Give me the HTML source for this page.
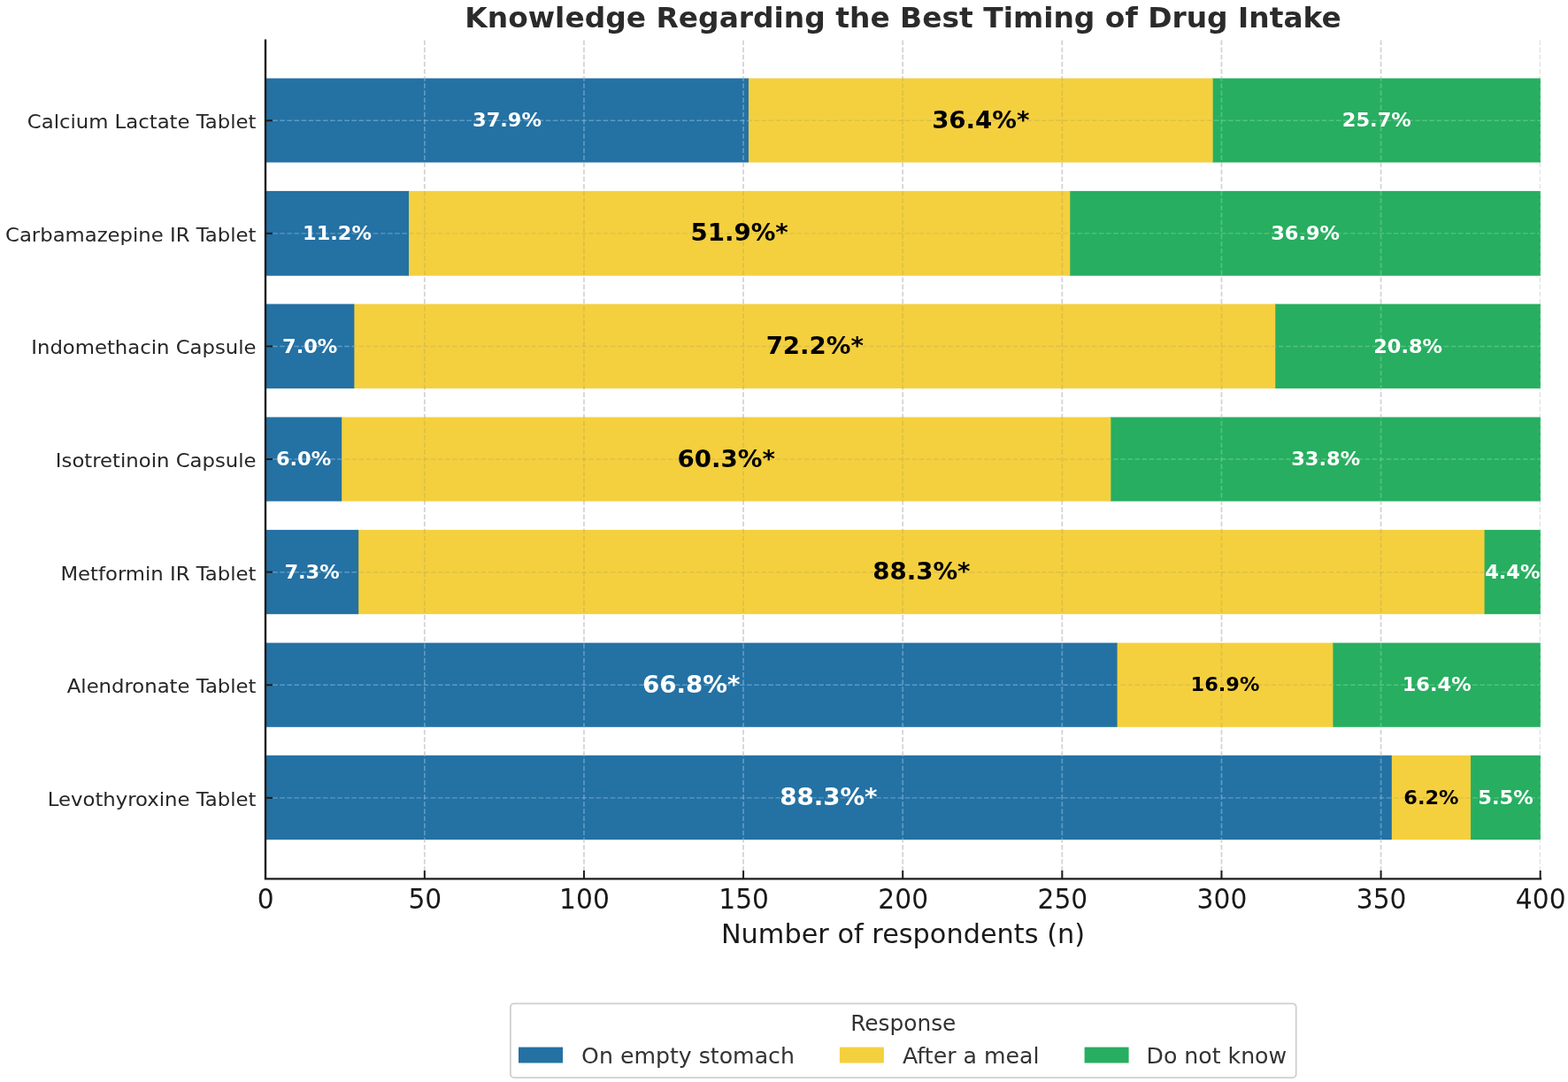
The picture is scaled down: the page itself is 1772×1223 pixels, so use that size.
<!DOCTYPE html>
<html lang="en"><head><meta charset="utf-8"><title>Knowledge Regarding the Best Timing of Drug Intake</title>
<style>
html,body{margin:0;padding:0;background:#fff;}
body{width:1772px;height:1223px;overflow:hidden;}
svg{display:block;font-family:"DejaVu Sans","Liberation Sans",sans-serif;}
.b{font-weight:bold;}
</style></head><body>
<svg width="1772" height="1223" viewBox="0 0 1772 1223">
<rect x="0" y="0" width="1772" height="1223" fill="#ffffff"/>
<g>
<rect x="1369.66" y="88.50" width="371.34" height="95.10" fill="#27ae60"/>
<rect x="844.94" y="88.50" width="525.72" height="95.10" fill="#f4d03f"/>
<rect x="300.00" y="88.50" width="545.94" height="95.10" fill="#2471a3"/>
<rect x="1208.27" y="215.90" width="532.73" height="95.80" fill="#27ae60"/>
<rect x="460.99" y="215.90" width="748.28" height="95.80" fill="#f4d03f"/>
<rect x="300.00" y="215.90" width="161.99" height="95.80" fill="#2471a3"/>
<rect x="1440.27" y="343.60" width="300.73" height="95.50" fill="#27ae60"/>
<rect x="399.37" y="343.60" width="1041.90" height="95.50" fill="#f4d03f"/>
<rect x="300.00" y="343.60" width="100.37" height="95.50" fill="#2471a3"/>
<rect x="1254.38" y="471.50" width="486.62" height="95.10" fill="#27ae60"/>
<rect x="385.16" y="471.50" width="870.22" height="95.10" fill="#f4d03f"/>
<rect x="300.00" y="471.50" width="86.16" height="95.10" fill="#2471a3"/>
<rect x="1676.60" y="598.90" width="64.40" height="95.30" fill="#27ae60"/>
<rect x="404.19" y="598.90" width="1273.40" height="95.30" fill="#f4d03f"/>
<rect x="300.00" y="598.90" width="105.19" height="95.30" fill="#2471a3"/>
<rect x="1505.42" y="726.60" width="235.58" height="95.20" fill="#27ae60"/>
<rect x="1261.59" y="726.60" width="244.83" height="95.20" fill="#f4d03f"/>
<rect x="300.00" y="726.60" width="962.59" height="95.20" fill="#2471a3"/>
<rect x="1661.05" y="853.80" width="79.95" height="95.30" fill="#27ae60"/>
<rect x="1571.80" y="853.80" width="90.24" height="95.30" fill="#f4d03f"/>
<rect x="300.00" y="853.80" width="1272.80" height="95.30" fill="#2471a3"/>
</g>
<clipPath id="ax"><rect x="300.00" y="44.30" width="1440.65" height="949.10"/></clipPath>
<g clip-path="url(#ax)" stroke="#b0b0b0" stroke-opacity="0.18" stroke-width="1.7" stroke-dasharray="5.6 2.52" fill="none">
<line x1="479.82" y1="993.00" x2="479.82" y2="44.30"/>
<line x1="659.95" y1="993.00" x2="659.95" y2="44.30"/>
<line x1="840.08" y1="993.00" x2="840.08" y2="44.30"/>
<line x1="1020.20" y1="993.00" x2="1020.20" y2="44.30"/>
<line x1="1200.33" y1="993.00" x2="1200.33" y2="44.30"/>
<line x1="1380.45" y1="993.00" x2="1380.45" y2="44.30"/>
<line x1="1560.58" y1="993.00" x2="1560.58" y2="44.30"/>
<line x1="1740.70" y1="993.00" x2="1740.70" y2="44.30"/>
<line stroke-width="1.45" x1="300.00" y1="136.25" x2="1741.00" y2="136.25"/>
<line stroke-width="1.45" x1="300.00" y1="263.85" x2="1741.00" y2="263.85"/>
<line stroke-width="1.45" x1="300.00" y1="391.45" x2="1741.00" y2="391.45"/>
<line stroke-width="1.45" x1="300.00" y1="519.05" x2="1741.00" y2="519.05"/>
<line stroke-width="1.45" x1="300.00" y1="646.65" x2="1741.00" y2="646.65"/>
<line stroke-width="1.45" x1="300.00" y1="774.25" x2="1741.00" y2="774.25"/>
<line stroke-width="1.45" x1="300.00" y1="901.85" x2="1741.00" y2="901.85"/>
</g>
<g clip-path="url(#ax)" stroke="#b0b0b0" stroke-opacity="0.45" stroke-width="1.7" stroke-dasharray="5.6 2.52" fill="none" style="mix-blend-mode:luminosity">
<line x1="479.82" y1="993.00" x2="479.82" y2="44.30"/>
<line x1="659.95" y1="993.00" x2="659.95" y2="44.30"/>
<line x1="840.08" y1="993.00" x2="840.08" y2="44.30"/>
<line x1="1020.20" y1="993.00" x2="1020.20" y2="44.30"/>
<line x1="1200.33" y1="993.00" x2="1200.33" y2="44.30"/>
<line x1="1380.45" y1="993.00" x2="1380.45" y2="44.30"/>
<line x1="1560.58" y1="993.00" x2="1560.58" y2="44.30"/>
<line x1="1740.70" y1="993.00" x2="1740.70" y2="44.30"/>
<line stroke-width="1.45" x1="300.00" y1="136.25" x2="1741.00" y2="136.25"/>
<line stroke-width="1.45" x1="300.00" y1="263.85" x2="1741.00" y2="263.85"/>
<line stroke-width="1.45" x1="300.00" y1="391.45" x2="1741.00" y2="391.45"/>
<line stroke-width="1.45" x1="300.00" y1="519.05" x2="1741.00" y2="519.05"/>
<line stroke-width="1.45" x1="300.00" y1="646.65" x2="1741.00" y2="646.65"/>
<line stroke-width="1.45" x1="300.00" y1="774.25" x2="1741.00" y2="774.25"/>
<line stroke-width="1.45" x1="300.00" y1="901.85" x2="1741.00" y2="901.85"/>
</g>
<g>
<text x="572.97" y="143.35" font-size="21.60" textLength="77.93" lengthAdjust="spacingAndGlyphs" text-anchor="middle" class="b" fill="#ffffff">37.9%</text>
<text x="1108.30" y="144.85" font-size="27.10" textLength="110.35" lengthAdjust="spacingAndGlyphs" text-anchor="middle" class="b" fill="#000000">36.4%*</text>
<text x="1555.83" y="143.35" font-size="21.60" textLength="77.93" lengthAdjust="spacingAndGlyphs" text-anchor="middle" class="b" fill="#ffffff">25.7%</text>
<text x="381.00" y="270.95" font-size="21.60" textLength="77.93" lengthAdjust="spacingAndGlyphs" text-anchor="middle" class="b" fill="#ffffff">11.2%</text>
<text x="835.63" y="272.45" font-size="27.10" textLength="110.35" lengthAdjust="spacingAndGlyphs" text-anchor="middle" class="b" fill="#000000">51.9%*</text>
<text x="1475.14" y="270.95" font-size="21.60" textLength="77.93" lengthAdjust="spacingAndGlyphs" text-anchor="middle" class="b" fill="#ffffff">36.9%</text>
<text x="350.19" y="398.55" font-size="21.60" textLength="62.30" lengthAdjust="spacingAndGlyphs" text-anchor="middle" class="b" fill="#ffffff">7.0%</text>
<text x="920.82" y="400.05" font-size="27.10" textLength="110.35" lengthAdjust="spacingAndGlyphs" text-anchor="middle" class="b" fill="#000000">72.2%*</text>
<text x="1591.14" y="398.55" font-size="21.60" textLength="77.93" lengthAdjust="spacingAndGlyphs" text-anchor="middle" class="b" fill="#ffffff">20.8%</text>
<text x="343.08" y="526.15" font-size="21.60" textLength="62.30" lengthAdjust="spacingAndGlyphs" text-anchor="middle" class="b" fill="#ffffff">6.0%</text>
<text x="820.77" y="527.65" font-size="27.10" textLength="110.35" lengthAdjust="spacingAndGlyphs" text-anchor="middle" class="b" fill="#000000">60.3%*</text>
<text x="1498.19" y="526.15" font-size="21.60" textLength="77.93" lengthAdjust="spacingAndGlyphs" text-anchor="middle" class="b" fill="#ffffff">33.8%</text>
<text x="352.60" y="653.75" font-size="21.60" textLength="62.30" lengthAdjust="spacingAndGlyphs" text-anchor="middle" class="b" fill="#ffffff">7.3%</text>
<text x="1041.39" y="655.25" font-size="27.10" textLength="110.35" lengthAdjust="spacingAndGlyphs" text-anchor="middle" class="b" fill="#000000">88.3%*</text>
<text x="1709.30" y="653.75" font-size="21.60" textLength="62.30" lengthAdjust="spacingAndGlyphs" text-anchor="middle" class="b" fill="#ffffff">4.4%</text>
<text x="781.29" y="782.85" font-size="27.10" textLength="110.35" lengthAdjust="spacingAndGlyphs" text-anchor="middle" class="b" fill="#ffffff">66.8%*</text>
<text x="1384.50" y="781.35" font-size="21.60" textLength="77.93" lengthAdjust="spacingAndGlyphs" text-anchor="middle" class="b" fill="#000000">16.9%</text>
<text x="1623.71" y="781.35" font-size="21.60" textLength="77.93" lengthAdjust="spacingAndGlyphs" text-anchor="middle" class="b" fill="#ffffff">16.4%</text>
<text x="936.40" y="910.45" font-size="27.10" textLength="110.35" lengthAdjust="spacingAndGlyphs" text-anchor="middle" class="b" fill="#ffffff">88.3%*</text>
<text x="1617.42" y="908.95" font-size="21.60" textLength="62.30" lengthAdjust="spacingAndGlyphs" text-anchor="middle" class="b" fill="#000000">6.2%</text>
<text x="1701.52" y="908.95" font-size="21.60" textLength="62.30" lengthAdjust="spacingAndGlyphs" text-anchor="middle" class="b" fill="#ffffff">5.5%</text>
</g>
<g stroke="#1c1c1c" stroke-width="2.4" fill="none" stroke-linecap="square">
<path d="M300.00 45.60 L300.00 993.40 L1741.00 993.40"/>
</g>
<g stroke="#1c1c1c" stroke-width="2.0" fill="none">
<line x1="479.82" y1="993.40" x2="479.82" y2="983.90"/>
<line x1="659.95" y1="993.40" x2="659.95" y2="983.90"/>
<line x1="840.08" y1="993.40" x2="840.08" y2="983.90"/>
<line x1="1020.20" y1="993.40" x2="1020.20" y2="983.90"/>
<line x1="1200.33" y1="993.40" x2="1200.33" y2="983.90"/>
<line x1="1380.45" y1="993.40" x2="1380.45" y2="983.90"/>
<line x1="1560.58" y1="993.40" x2="1560.58" y2="983.90"/>
<line x1="1740.70" y1="993.40" x2="1740.70" y2="983.90"/>
<line x1="300.00" y1="136.25" x2="308.00" y2="136.25"/>
<line x1="300.00" y1="263.85" x2="308.00" y2="263.85"/>
<line x1="300.00" y1="391.45" x2="308.00" y2="391.45"/>
<line x1="300.00" y1="519.05" x2="308.00" y2="519.05"/>
<line x1="300.00" y1="646.65" x2="308.00" y2="646.65"/>
<line x1="300.00" y1="774.25" x2="308.00" y2="774.25"/>
<line x1="300.00" y1="901.85" x2="308.00" y2="901.85"/>
</g>
<g fill="#262626">
<text x="289.50" y="145.25" font-size="22.00" textLength="258.65" lengthAdjust="spacingAndGlyphs" text-anchor="end">Calcium Lactate Tablet</text>
<text x="289.50" y="272.85" font-size="22.00" textLength="283.48" lengthAdjust="spacingAndGlyphs" text-anchor="end">Carbamazepine IR Tablet</text>
<text x="289.50" y="400.45" font-size="22.00" textLength="254.24" lengthAdjust="spacingAndGlyphs" text-anchor="end">Indomethacin Capsule</text>
<text x="289.50" y="528.05" font-size="22.00" textLength="226.64" lengthAdjust="spacingAndGlyphs" text-anchor="end">Isotretinoin Capsule</text>
<text x="289.50" y="655.65" font-size="22.00" textLength="221.04" lengthAdjust="spacingAndGlyphs" text-anchor="end">Metformin IR Tablet</text>
<text x="289.50" y="783.25" font-size="22.00" textLength="213.75" lengthAdjust="spacingAndGlyphs" text-anchor="end">Alendronate Tablet</text>
<text x="289.50" y="910.85" font-size="22.00" textLength="235.69" lengthAdjust="spacingAndGlyphs" text-anchor="end">Levothyroxine Tablet</text>
</g>
<g fill="#1a1a1a">
<text x="300.20" y="1026.50" font-size="32.00" textLength="18.89" lengthAdjust="spacingAndGlyphs" text-anchor="middle">0</text>
<text x="480.32" y="1026.50" font-size="32.00" textLength="37.79" lengthAdjust="spacingAndGlyphs" text-anchor="middle">50</text>
<text x="660.45" y="1026.50" font-size="32.00" textLength="56.68" lengthAdjust="spacingAndGlyphs" text-anchor="middle">100</text>
<text x="840.58" y="1026.50" font-size="32.00" textLength="56.68" lengthAdjust="spacingAndGlyphs" text-anchor="middle">150</text>
<text x="1020.70" y="1026.50" font-size="32.00" textLength="56.68" lengthAdjust="spacingAndGlyphs" text-anchor="middle">200</text>
<text x="1200.83" y="1026.50" font-size="32.00" textLength="56.68" lengthAdjust="spacingAndGlyphs" text-anchor="middle">250</text>
<text x="1380.95" y="1026.50" font-size="32.00" textLength="56.68" lengthAdjust="spacingAndGlyphs" text-anchor="middle">300</text>
<text x="1561.08" y="1026.50" font-size="32.00" textLength="56.68" lengthAdjust="spacingAndGlyphs" text-anchor="middle">350</text>
<text x="1741.20" y="1026.50" font-size="32.00" textLength="56.68" lengthAdjust="spacingAndGlyphs" text-anchor="middle">400</text>
</g>
<text x="1020.50" y="1066.00" text-anchor="middle" font-size="30.35" fill="#1a1a1a">Number of respondents (n)</text>
<text x="1020.60" y="31.00" font-size="32.40" textLength="990.65" lengthAdjust="spacingAndGlyphs" text-anchor="middle" class="b" fill="#2b2b2b">Knowledge Regarding the Best Timing of Drug Intake</text>
<rect x="576.9" y="1134.3" width="887.80" height="83.80" rx="4" ry="4" fill="#ffffff" stroke="#cfcfcf" stroke-width="1.8"/>
<text x="1020.8" y="1164.7" text-anchor="middle" font-size="24.80" fill="#333333">Response</text>
<rect x="586.00" y="1183.6" width="50.0" height="17.9" fill="#2471a3"/>
<text x="657.10" y="1201.6" font-size="25.20" fill="#333333">On empty stomach</text>
<rect x="948.90" y="1183.6" width="50.0" height="17.9" fill="#f4d03f"/>
<text x="1020.00" y="1201.6" font-size="25.20" fill="#333333">After a meal</text>
<rect x="1225.60" y="1183.6" width="50.0" height="17.9" fill="#27ae60"/>
<text x="1295.50" y="1201.6" font-size="25.20" fill="#333333">Do not know</text>
</svg>
</body></html>
